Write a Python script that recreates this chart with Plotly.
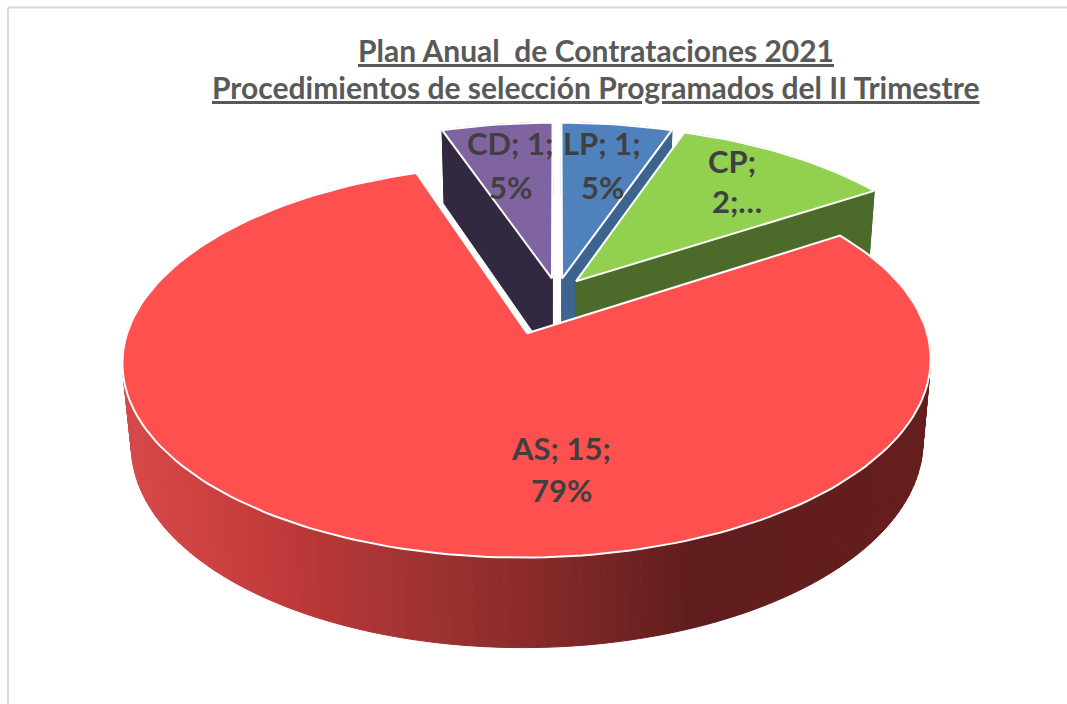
import math
import plotly.graph_objects as go

categories = ["LP", "CP", "AS", "CD"]
values = [1, 2, 15, 1]
top_colors = ["#4F81BD", "#92D050", "#FF5050", "#8064A2"]
wall_colors = ["#3C648F", "#4C6A2A", "#8A2A2A", "#322840"]
explode = [0.08, 0.08, 0.23, 0.08]
label_lines = [["LP; 1;", "5%"], ["CP;", "2;…"], ["AS; 15;", "79%"], ["CD; 1;", "5%"]]
label_anchor = [[(602, 143), (602, 187)], [(732, 161), (737, 201)], [(561, 448), (561, 490)], [(510, 143), (510, 187)]]
title_lines = ["Plan Anual\u00a0 de Contrataciones 2021", "Procedimientos de selección Programados del II Trimestre"]
title_anchor = [(595.5, 50), (595.5, 87)]

# projection of the pie (camera settings)
CX, CY, AX, BY, K, HH, M = 557.0, 292.7, 388.0, 181.0, 0.138, 82.0, 0.02
WIDTH, HEIGHT = 1067, 704

# shading of the big slice's outer wall, by screen x
RAMP = [(120, (214, 74, 74)), (200, (206, 66, 66)), (300, (188, 56, 56)), (400, (164, 52, 52)),
        (530, (138, 42, 42)), (600, (120, 37, 37)), (690, (96, 29, 29)), (930, (102, 29, 29))]


def ramp(x):
    for (x0, c0), (x1, c1) in zip(RAMP, RAMP[1:]):
        if x <= x1:
            t = max(0.0, (x - x0) / (x1 - x0))
            return "rgb(%d,%d,%d)" % tuple(round(a + (b - a) * t) for a, b in zip(c0, c1))
    return "rgb(%d,%d,%d)" % RAMP[-1][1]


def proj(u, v, low=False):
    w = 1 + K * v + (M if low else 0)
    return CX + AX * u / w, CY + ((HH if low else 0) - BY * v) / w


def polar(deg, r, off):
    a = math.radians(deg)
    return off[0] + r * math.sin(a), off[1] + r * math.cos(a)


fig = go.Figure()


def poly(pts, fill, line=None, lw=1.0):
    xs = [p[0] for p in pts] + [pts[0][0]]
    ys = [p[1] for p in pts] + [pts[0][1]]
    fig.add_trace(go.Scatter(x=xs, y=ys, mode="lines", fill="toself", fillcolor=fill,
                             line=dict(color=line or fill, width=lw), hoverinfo="skip", showlegend=False))


total = sum(values)
spans = []
start = 0.0
for v in values:
    spans.append((start, start + 360.0 * v / total))
    start += 360.0 * v / total

# far slices first, big front slice last
for i in [3, 0, 1, 2]:
    a0, a1 = spans[i]
    mid = math.radians((a0 + a1) / 2)
    off = (explode[i] * math.sin(mid), explode[i] * math.cos(mid))
    n = max(4, int((a1 - a0) / 1.5))
    angles = [a0 + (a1 - a0) * j / n for j in range(n + 1)]
    rim = [polar(a, 1, off) for a in angles]
    # straight cut walls
    for edge in (rim[0], rim[-1]):
        poly([proj(*off), proj(*edge), proj(*edge, True), proj(*off, True)], wall_colors[i])
    # outer wall, in narrow strips
    for (p, q) in zip(rim, rim[1:]):
        quad = [proj(*p), proj(*q), proj(*q, True), proj(*p, True)]
        col = ramp(sum(s[0] for s in quad) / 4) if categories[i] == "AS" else wall_colors[i]
        poly(quad, col, lw=1.0)
    # top face
    poly([proj(*off)] + [proj(*p) for p in rim], top_colors[i], line="#FFFFFF", lw=2)

for lines, anchors in zip(label_lines, label_anchor):
    for text, (x, y) in zip(lines, anchors):
        fig.add_annotation(x=x, y=y, text=text, showarrow=False, xanchor="center", yanchor="middle",
                           font=dict(family="Lato", size=31, color="#404040", weight="bold"))

for text, (x, y) in zip(title_lines, title_anchor):
    fig.add_annotation(x=x, y=y, text=text, showarrow=False, xanchor="center", yanchor="middle",
                       font=dict(family="Lato", size=30, color="#595959", weight="bold", lineposition="under"))

fig.update_layout(
    width=WIDTH, height=HEIGHT, margin=dict(l=0, r=0, t=0, b=0),
    paper_bgcolor="white", plot_bgcolor="white", showlegend=False,
    xaxis=dict(range=[0, WIDTH], visible=False, fixedrange=True),
    yaxis=dict(range=[HEIGHT, 0], visible=False, fixedrange=True),
    shapes=[
        dict(type="line", x0=8, x1=8, y0=7.5, y1=HEIGHT, line=dict(color="#D9D9D9", width=2)),
        dict(type="line", x0=8, x1=WIDTH, y0=7.5, y1=7.5, line=dict(color="#D9D9D9", width=2)),
    ],
)

fig.write_html("out.html", config={"displayModeBar": False},
               post_script="document.body.style.margin='0';document.documentElement.style.overflow='hidden';")
